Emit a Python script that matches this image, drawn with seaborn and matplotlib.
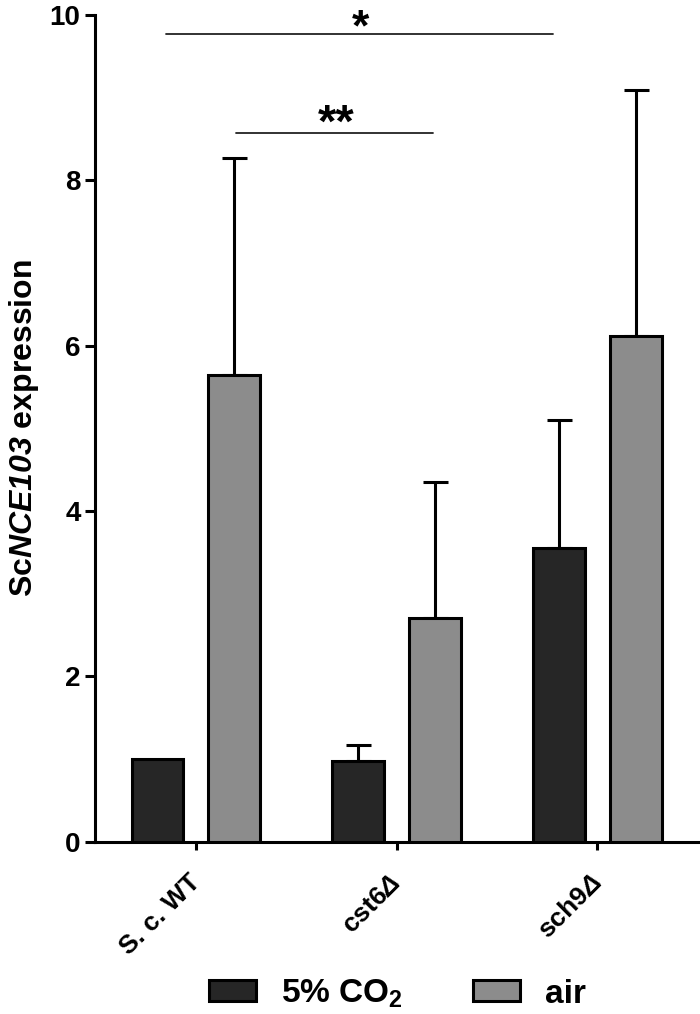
import pandas as pd
import numpy as np
import matplotlib
matplotlib.use("Agg")
import matplotlib.pyplot as plt
import matplotlib.transforms as mtransforms
import seaborn as sns

# Data
strains = ["S. c. WT", "cst6Δ", "sch9Δ"]
conditions = ["5% CO$_2$", "air"]
co2_mean = [1.0, 0.97, 3.55]
air_mean = [5.65, 2.70, 6.12]
co2_err = [0.0, 0.20, 1.55]
air_err = [2.62, 1.65, 2.98]
colors = ["#262626", "#8c8c8c"]

df = pd.DataFrame({
    "strain": strains * 2,
    "condition": [conditions[0]] * 3 + [conditions[1]] * 3,
    "value": co2_mean + air_mean,
})

sns.set_style("ticks")
plt.rcParams["font.family"] = ["Liberation Sans", "DejaVu Sans"]
plt.rcParams["font.weight"] = "bold"
plt.rcParams["text.color"] = "black"
plt.rcParams["axes.labelcolor"] = "black"
plt.rcParams["xtick.color"] = "black"
plt.rcParams["ytick.color"] = "black"
plt.rcParams["axes.edgecolor"] = "black"
plt.rcParams["mathtext.fontset"] = "custom"
plt.rcParams["mathtext.rm"] = "Liberation Sans:bold"
plt.rcParams["mathtext.it"] = "Liberation Sans:italic:bold"
# bf slot used for bold italic (digits and greek too)
plt.rcParams["mathtext.bf"] = "Liberation Sans:italic:bold"

fig = plt.figure(figsize=(7, 10.14), dpi=100)
ax = fig.add_axes([0.136, 0.17, 0.861, 0.815])

sns.barplot(data=df, x="strain", y="value", hue="condition",
            palette=colors, width=0.76, gap=0.32, edgecolor="black",
            linewidth=2.2, saturation=1, errorbar=None, ax=ax, zorder=3)

# upper-only error bars, positioned from the drawn bars
for cont, errs in zip(ax.containers, [co2_err, air_err]):
    for bar, e in zip(cont, errs):
        if e <= 0:
            continue
        x = bar.get_x() + bar.get_width() / 2
        ax.errorbar(x, bar.get_height(), yerr=[[0], [e]], fmt="none",
                    ecolor="black", elinewidth=2.2, capsize=9, capthick=2.2,
                    zorder=2)

# significance brackets
ax.plot([-0.15, 1.78], [9.77, 9.77], color="#222222", lw=1.3, clip_on=False)
ax.text(0.82, 9.70, "*", ha="center", va="baseline", fontsize=32,
        fontweight="bold", clip_on=False)
ax.plot([0.2, 1.18], [8.57, 8.57], color="#222222", lw=1.3, clip_on=False)
ax.text(0.70, 8.53, "**", ha="center", va="baseline", fontsize=34,
        fontweight="bold", clip_on=False)

ax.set_xlim(-0.5, 2.5)
ax.set_ylim(0, 10)
ax.set_yticks([0, 2, 4, 6, 8, 10])
ax.set_xlabel("")
ax.set_ylabel("Sc$\\mathbf{NCE103}$ expression", fontsize=23,
              fontweight="bold", labelpad=6)
sns.despine(ax=ax)
for s in ["left", "bottom"]:
    ax.spines[s].set_linewidth(2.2)
ax.tick_params(axis="y", length=7.5, width=2.2, labelsize=20, pad=3)
ax.tick_params(axis="x", length=6, width=2.2, labelsize=19, pad=6)
ax.set_xticks(range(len(strains)))
ax.set_xticklabels(["S. c. WT", "cst6$\\mathbf{\\Delta}$", "sch9$\\mathbf{\\Delta}$"],
                   rotation=45, ha="right", rotation_mode="anchor")
shift = mtransforms.ScaledTranslation(-0.08, -0.12, fig.dpi_scale_trans)
for lbl in ax.get_xticklabels():
    lbl.set_transform(lbl.get_transform() + shift)
for lbl in ax.get_yticklabels() + ax.get_xticklabels():
    lbl.set_fontweight("bold")

handles, labels = ax.get_legend_handles_labels()
ax.get_legend().remove()
fig.legend(handles, labels, loc="center", bbox_to_anchor=(0.568, 0.02),
           ncol=2, frameon=False, fontsize=24, handlelength=1.4,
           handleheight=0.6, columnspacing=2.1, handletextpad=0.75)

fig.savefig("out.png", dpi=100)
